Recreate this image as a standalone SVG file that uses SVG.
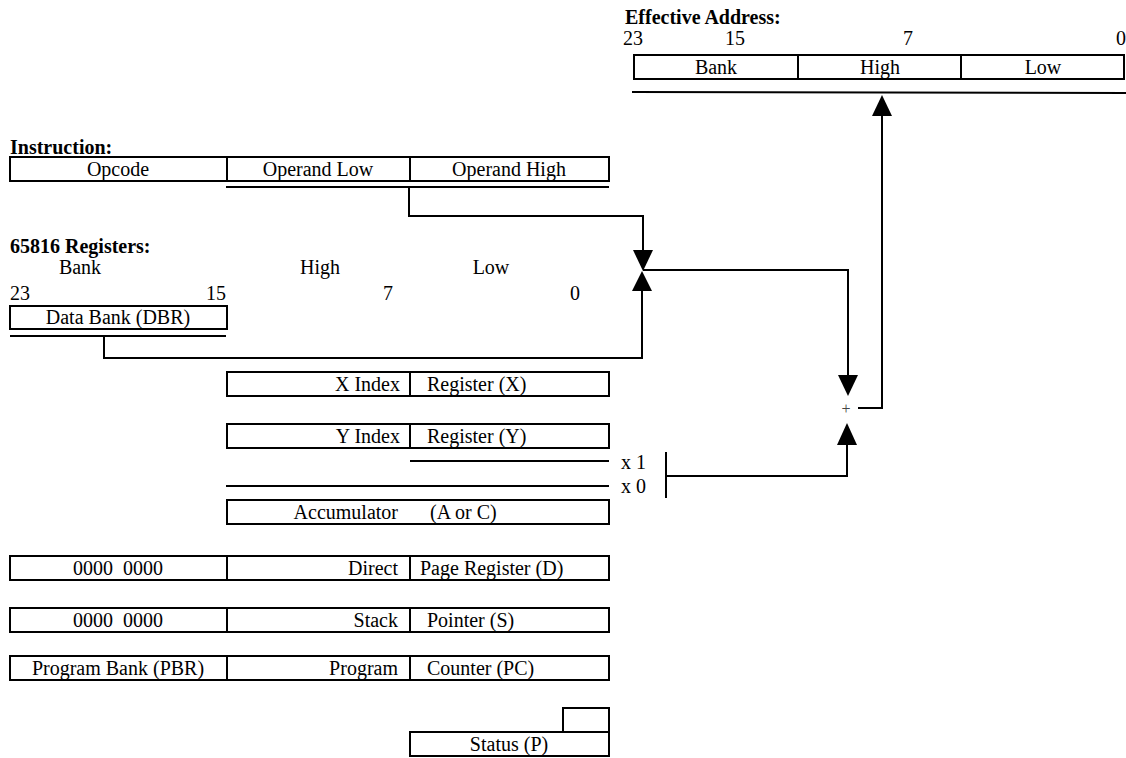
<svg xmlns="http://www.w3.org/2000/svg" width="1126" height="758" viewBox="0 0 1126 758" font-family="'Liberation Serif', 'DejaVu Serif', serif">
<style>
text{font-family:'Liberation Serif','DejaVu Serif',serif;font-size:20px;fill:#000}
.b{font-weight:bold}
.m{text-anchor:middle}
.e{text-anchor:end}
.box{fill:none;stroke:#000;stroke-width:2}
.ln{fill:none;stroke:#000;stroke-width:2}
.c{fill:none;stroke:#000;stroke-width:2}
</style>
<rect width="1126" height="758" fill="#fff"/>
<g id="effective-address">
<text x="625" y="24" class="b">Effective Address:</text>
<text x="623" y="45">23</text>
<text x="725" y="45">15</text>
<text x="903" y="45">7</text>
<text x="1116" y="45">0</text>
<rect x="634" y="55" width="490" height="24" class="box"/>
<line x1="798" y1="55" x2="798" y2="79" class="ln"/>
<line x1="961" y1="55" x2="961" y2="79" class="ln"/>
<text x="716" y="74" class="m">Bank</text>
<text x="880" y="74" class="m">High</text>
<text x="1043" y="74" class="m">Low</text>
<line x1="632" y1="92" x2="1126" y2="93" class="ln"/>
</g>
<g id="instruction">
<text x="10" y="154" class="b">Instruction:</text>
<rect x="10" y="157" width="599" height="24" class="box"/>
<line x1="227" y1="157" x2="227" y2="181" class="ln"/>
<line x1="410" y1="157" x2="410" y2="181" class="ln"/>
<text x="118" y="176" class="m">Opcode</text>
<text x="318" y="176" class="m">Operand Low</text>
<text x="509" y="176" class="m">Operand High</text>
<line x1="226" y1="187" x2="609" y2="187" class="ln"/>
</g>
<g id="registers-header">
<text x="10" y="253" class="b">65816 Registers:</text>
<text x="80" y="274" class="m">Bank</text>
<text x="320" y="274" class="m">High</text>
<text x="491" y="274" class="m">Low</text>
<text x="10" y="300">23</text>
<text x="226" y="300" class="e">15</text>
<text x="383" y="300">7</text>
<text x="570" y="300">0</text>
</g>
<g id="dbr">
<rect x="10" y="306" width="217" height="23" class="box"/>
<text x="118" y="324" class="m">Data Bank (DBR)</text>
<line x1="10" y1="336" x2="226" y2="336" class="ln"/>
</g>
<g id="x-index">
<rect x="227" y="372" width="382" height="24" class="box"/>
<line x1="410" y1="372" x2="410" y2="396" class="ln"/>
<text x="400" y="391" class="e">X Index</text>
<text x="427" y="391">Register (X)</text>
</g>
<g id="y-index">
<rect x="227" y="424" width="382" height="24" class="box"/>
<line x1="410" y1="424" x2="410" y2="448" class="ln"/>
<text x="400" y="443" class="e">Y Index</text>
<text x="427" y="443">Register (Y)</text>
<line x1="410" y1="461" x2="609" y2="461" class="ln"/>
<line x1="226" y1="486" x2="609" y2="486" class="ln"/>
<text x="621" y="469">x 1</text>
<text x="621" y="493">x 0</text>
<line x1="666" y1="452" x2="666" y2="498" class="ln"/>
</g>
<g id="accumulator">
<rect x="227" y="500" width="382" height="24" class="box"/>
<text x="398" y="519" class="e">Accumulator</text>
<text x="430" y="519">(A or C)</text>
</g>
<g id="direct-page">
<rect x="10" y="556" width="599" height="24" class="box"/>
<line x1="227" y1="556" x2="227" y2="580" class="ln"/>
<line x1="410" y1="556" x2="410" y2="580" class="ln"/>
<text x="118" y="575" class="m" xml:space="preserve">0000  0000</text>
<text x="398" y="575" class="e">Direct</text>
<text x="420" y="575">Page Register (D)</text>
</g>
<g id="stack-pointer">
<rect x="10" y="608" width="599" height="24" class="box"/>
<line x1="227" y1="608" x2="227" y2="632" class="ln"/>
<line x1="410" y1="608" x2="410" y2="632" class="ln"/>
<text x="118" y="627" class="m" xml:space="preserve">0000  0000</text>
<text x="398" y="627" class="e">Stack</text>
<text x="427" y="627">Pointer (S)</text>
</g>
<g id="program-counter">
<rect x="10" y="656" width="599" height="24" class="box"/>
<line x1="227" y1="656" x2="227" y2="680" class="ln"/>
<line x1="410" y1="656" x2="410" y2="680" class="ln"/>
<text x="118" y="675" class="m">Program Bank (PBR)</text>
<text x="398" y="675" class="e">Program</text>
<text x="427" y="675">Counter (PC)</text>
</g>
<g id="status">
<rect x="563" y="708" width="46" height="24" class="box"/>
<rect x="410" y="732" width="199" height="24" class="box"/>
<text x="509" y="751" class="m">Status (P)</text>
</g>
<g id="adder">
<text x="846" y="414" class="m" style="font-size:16px;fill:#444">+</text>
</g>
<g id="connectors">
<polyline points="409,187 409,216 643,216 643,252" class="c"/>
<polygon points="633,250 653,250 643,271"/>
<polyline points="104,336 104,358 642,358 642,290" class="c"/>
<polygon points="632,291 652,291 642,271"/>
<polyline points="643,270 848,270 848,377" class="c"/>
<polygon points="838,375 858,375 848,396"/>
<polyline points="666,476 847,476 847,443" class="c"/>
<polygon points="837,445 857,445 847,423"/>
<polyline points="858,408 882,408 882,114" class="c"/>
<polygon points="872,116 892,116 882,95"/>
</g>
</svg>
